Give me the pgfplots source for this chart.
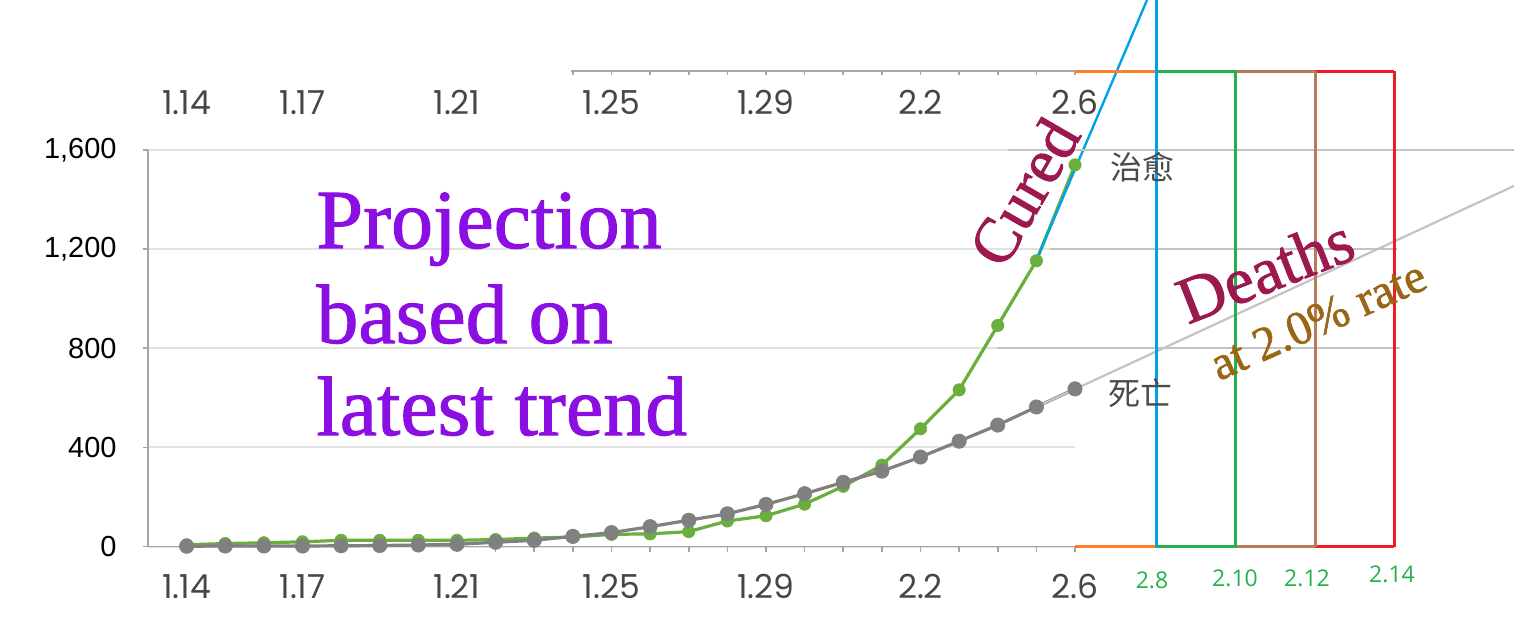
\documentclass[border=0pt]{standalone}
\usepackage{pgfplots}
\usepackage{pgfplotstable}
\pgfplotsset{compat=1.18}
\usepackage{fontspec}
\setmainfont{Liberation Serif}
\newfontfamily\heavyserif{Liberation Serif}[FakeBold=1.2]
\newfontfamily\tickfont{Poppins}
\newfontfamily\yfont{Liberation Sans}
\newfontfamily\lblfont{Open Sans}
\newfontfamily\cjk{Noto Sans CJK SC}

\definecolor{cgreen}{RGB}{106,175,61}
\definecolor{cgray}{RGB}{128,128,128}
\definecolor{gridc}{RGB}{226,226,226}
\definecolor{paintgray}{RGB}{195,195,195}
\definecolor{pblue}{RGB}{0,162,232}
\definecolor{porange}{RGB}{255,127,39}
\definecolor{pgreen}{RGB}{34,177,76}
\definecolor{pbrown}{RGB}{185,122,87}
\definecolor{pred}{RGB}{237,28,36}
\definecolor{purp}{RGB}{139,15,226}
\definecolor{maroon}{RGB}{155,25,78}
\definecolor{goldb}{RGB}{155,101,22}
\definecolor{axgray}{RGB}{165,165,165}
\definecolor{tickgray}{RGB}{70,70,70}
\definecolor{cjkgray}{RGB}{75,75,75}

% day index: 0 = 1.14 ... 17 = 1.31, 18 = 2.1 ... 23 = 2.6
\pgfplotstableread{
i cured deaths
0 7 1
1 12 2
2 15 2
3 19 2
4 25 3
5 25 4
6 25 6
7 25 9
8 28 17
9 34 25
10 38 41
11 49 56
12 51 80
13 60 106
14 103 132
15 124 170
16 171 213
17 243 259
18 328 304
19 475 361
20 632 425
21 892 490
22 1153 563
23 1540 636
}\datatable

% projection lines (cured: steep blue; deaths: gray at 2.0% rate)
\pgfplotstableread{
i v
22 1156
24.864 2205
}\curedproj
\pgfplotstableread{
i v
22 563
34.366 1455
}\deathproj

\begin{document}
\begin{tikzpicture}
\begin{axis}[
  scale only axis, width=463.5pt, height=198.25pt,
  xmin=-1, xmax=23, ymin=0, ymax=1600,
  axis x line*=bottom, axis y line*=left,
  axis line style={axgray, line width=0.9pt, -},
  clip=false,
  xtick={0,3,7,11,15,19,23},
  xticklabels={1.14,1.17,1.21,1.25,1.29,2.2,2.6},
  minor xtick={0,...,23},
  ytick={0,400,800,1200,1600},
  yticklabels={0,400,800,{1,200},{1,600}},
  tick align=outside,
  major tick length=2.5pt, minor tick length=2.5pt,
  tick style={axgray, line width=0.8pt},
  ymajorgrids, grid style={gridc, line width=1pt},
  xticklabel style={font=\tickfont\fontsize{16.5}{16.5}\selectfont, text=tickgray, anchor=base, yshift=-23.5pt},
  yticklabel style={font=\yfont\fontsize{14.5}{14.5}\selectfont, text=black, anchor=east, inner sep=0pt, xshift=-13pt},
]
\addplot[cgreen, line width=1.6pt, mark=*, mark size=3.1pt, mark options={fill=cgreen, draw=cgreen, line width=0.3pt}] table[x=i, y=cured] {\datatable};
\addplot[cgray, line width=1.6pt, mark=*, mark size=3.6pt, mark options={fill=cgray, draw=cgray, line width=0.3pt}] table[x=i, y=deaths] {\datatable};
\addplot[pblue, line width=1.2pt, no marks] table[x=i, y=v] {\curedproj};
\addplot[paintgray, line width=1.1pt, no marks] table[x=i, y=v] {\deathproj};
\coordinate (O) at (axis cs:-1,0);
\end{axis}

\begin{scope}[shift={(O)}, x=0.5pt, y=-0.5pt, shift={(-148,-546.5)}]
  % darker gray extensions of grid lines
  \draw[paintgray, line width=1.2pt] (1008,150) -- (1514,150);
  \draw[paintgray, line width=1.2pt] (1050,249) -- (1397,249);
  \draw[paintgray, line width=1.2pt] (997,348) -- (1400,348);
  % top copy of the date axis
  \draw[axgray, line width=1pt] (571,71.5) -- (1075,71.5);
  \foreach \k in {10,...,23} {
    \draw[axgray, line width=0.8pt] ({148+(\k+1)*38.625},71.5) -- ++(0,4);
  }
  \foreach \k/\t in {0/1.14,3/1.17,7/1.21,11/1.25,15/1.29,19/2.2,23/2.6} {
    \node[anchor=base, inner sep=0pt, text=tickgray, font=\tickfont\fontsize{16.5}{16.5}\selectfont] at ({148+(\k+1)*38.625},115) {\t};
  }
  % coloured frame lines
  \draw[porange, line width=1.5pt] (1075,71.5) -- (1156,71.5);
  \draw[porange, line width=1.5pt] (1075,546.5) -- (1156,546.5);
  \draw[pgreen, line width=1.5pt] (1156,71.5) -- (1235.5,71.5);
  \draw[pgreen, line width=1.5pt] (1156,546.5) -- (1235.5,546.5);
  \draw[pbrown, line width=1.5pt] (1235.5,71.5) -- (1315,71.5);
  \draw[pbrown, line width=1.5pt] (1235.5,546.5) -- (1315,546.5);
  \draw[pred, line width=1.5pt] (1315,71.5) -- (1394,71.5);
  \draw[pred, line width=1.5pt] (1315,546.5) -- (1394,546.5);
  \draw[pgreen, line width=1.5pt] (1235.5,70) -- (1235.5,546.5);
  \draw[pbrown, line width=1.5pt] (1315,71.5) -- (1315,546.5);
  \draw[pred, line width=1.5pt] (1394,70.8) -- (1394,547.2);
  \draw[pblue, line width=1.5pt] (1156,0) -- (1156,546.5);
  % green date labels
  \foreach \x/\y/\t in {1152/580/2.8,1235/578/2.10,1307/578/2.12,1392/574/2.14} {
    \node[inner sep=0pt, text=pgreen, font=\lblfont\fontsize{11.5}{11.5}\selectfont] at (\x,\y) {\t};
  }
  % series names
  \node[inner sep=0pt, text=cjkgray, font=\cjk\fontsize{16}{16}\selectfont] at (1142,167) {治愈};
  \node[inner sep=0pt, text=cjkgray, font=\cjk\fontsize{16}{16}\selectfont] at (1140,393) {死亡};
  % annotations
  \node[anchor=base west, inner sep=0pt, text=purp, font=\heavyserif\fontsize{42}{42}\selectfont] at (316,248) {Projection};
  \node[anchor=base west, inner sep=0pt, text=purp, font=\heavyserif\fontsize{42}{42}\selectfont] at (316,343) {based on};
  \node[anchor=base west, inner sep=0pt, text=purp, font=\heavyserif\fontsize{42}{42}\selectfont] at (316,435) {latest trend};
  \node[rotate=60, inner sep=0pt, text=maroon, font=\heavyserif\fontsize{32}{32}\selectfont] at (1024,192) {Cured};
  \node[rotate=21.5, inner sep=0pt, text=maroon, font=\heavyserif\fontsize{33}{33}\selectfont] at (1265,270) {Deaths};
  \node[rotate=24, inner sep=0pt, text=goldb, font=\heavyserif\fontsize{24}{24}\selectfont] at (1318,320) {at 2.0\% rate};
  \pgfresetboundingbox
  \path[use as bounding box] (0,0) rectangle (1514,627);
\end{scope}
\end{tikzpicture}
\end{document}
